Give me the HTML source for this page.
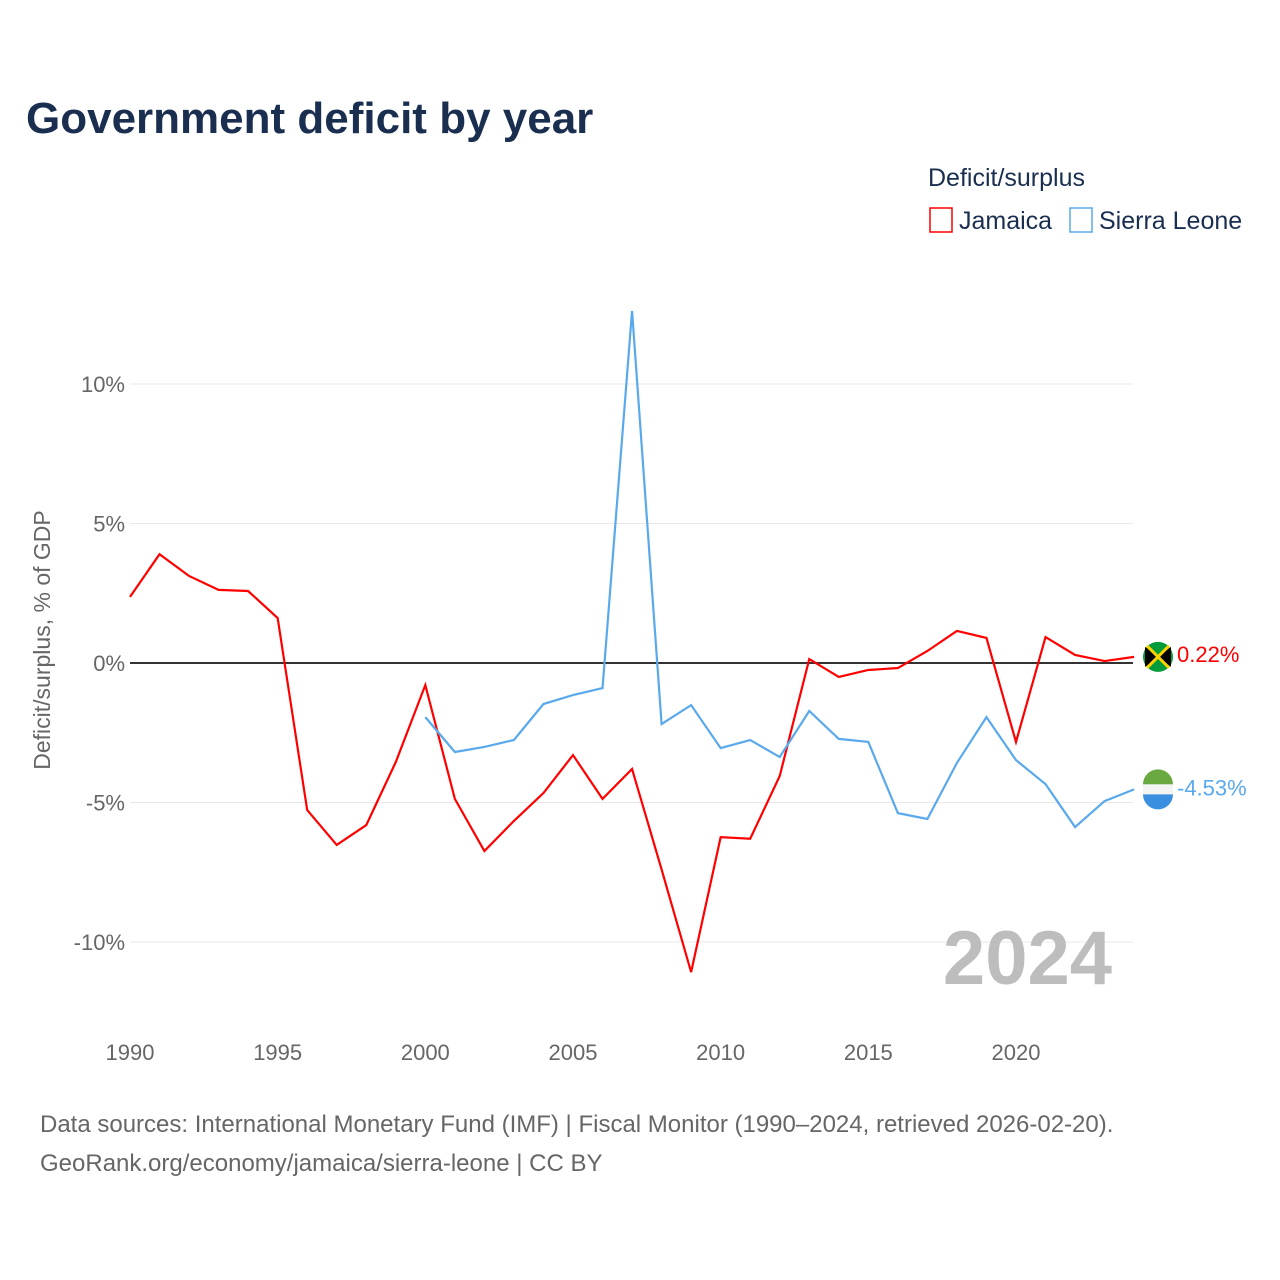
<!DOCTYPE html>
<html><head><meta charset="utf-8"><style>
body{margin:0;background:#fff;font-family:"Liberation Sans",sans-serif;}
</style></head><body>
<svg id="chart" width="1280" height="1280" xmlns="http://www.w3.org/2000/svg" style="display:block">
<rect width="1280" height="1280" fill="#fff"/>
<text x="26" y="133" font-size="44" font-weight="bold" fill="#1a2e4f">Government deficit by year</text>
<text x="928" y="186" font-size="25" fill="#1a2e4f">Deficit/surplus</text>
<g><rect x="930" y="208" width="22" height="24" fill="none" stroke="#ff0000" stroke-width="1.5"/><text x="959" y="229" font-size="25" fill="#1a2e4f">Jamaica</text></g>
<g><rect x="1070" y="208" width="22" height="24" fill="none" stroke="#5aa9ec" stroke-width="1.5"/><text x="1099" y="229" font-size="25" fill="#1a2e4f">Sierra Leone</text></g>
<text transform="translate(50,640) rotate(-90)" text-anchor="middle" font-size="23" fill="#666">Deficit/surplus, % of GDP</text>
<g id="grid"></g><g id="series"></g>
<text x="1112" y="984" text-anchor="end" font-size="76" font-weight="bold" fill="#bdbdbd">2024</text>
<text x="40" y="1132" font-size="24" fill="#666">Data sources: International Monetary Fund (IMF) | Fiscal Monitor (1990–2024, retrieved 2026-02-20).</text>
<text x="40" y="1171" font-size="24" fill="#666">GeoRank.org/economy/jamaica/sierra-leone | CC BY</text>
</svg>
<script>
const years=[];for(let y=1990;y<=2024;y++)years.push(y);
const jamaica=[2.37,3.9,3.12,2.62,2.58,1.61,-5.27,-6.52,-5.81,-3.55,-0.79,-4.87,-6.74,-5.66,-4.66,-3.3,-4.87,-3.8,-7.4,-11.08,-6.24,-6.3,-4.05,0.14,-0.5,-0.25,-0.18,0.43,1.15,0.9,-2.83,0.93,0.29,0.07,0.22];
const sierraYears=[2000,2001,2002,2003,2004,2005,2006,2007,2008,2009,2010,2011,2012,2013,2014,2015,2016,2017,2018,2019,2020,2021,2022,2023,2024];
const sierra=[-1.94,-3.19,-3.01,-2.76,-1.47,-1.15,-0.9,12.62,-2.19,-1.51,-3.05,-2.76,-3.37,-1.72,-2.72,-2.83,-5.38,-5.59,-3.58,-1.94,-3.48,-4.34,-5.88,-4.95,-4.53];
const yTicks=[10,5,0,-5,-10];const yLabels=["10%","5%","0%","-5%","-10%"];
const xTicks=[1990,1995,2000,2005,2010,2015,2020];
const X=y=>130+(y-1990)*29.533, Y=v=>663-v*27.9;
const NS="http://www.w3.org/2000/svg";
function mk(t,a,p){const e=document.createElementNS(NS,t);for(const k in a)e.setAttribute(k,a[k]);p.appendChild(e);return e;}
const g=document.getElementById('grid'),s=document.getElementById('series');
yTicks.forEach((v,i)=>{
 const l=mk('line',{x1:130,x2:1133,y1:Y(v),y2:Y(v),stroke:v===0?'#333':'#e8e8e8','stroke-width':v===0?2:1},g);
 
 
 const t=mk('text',{x:125,y:Y(v)+8,'text-anchor':'end','font-size':22,fill:'#666'},g);t.textContent=yLabels[i];
 
 
});
xTicks.forEach(y=>{const t=mk('text',{x:X(y),y:1060,'text-anchor':'middle','font-size':22,fill:'#666'},g);t.textContent=y;
 
 });
const pj=mk('polyline',{points:years.map((y,i)=>X(y)+','+Y(jamaica[i])).join(' '),fill:'none',stroke:'#ff0000','stroke-width':2.2},s);


const ps=mk('polyline',{points:sierraYears.map((y,i)=>X(y)+','+Y(sierra[i])).join(' '),fill:'none',stroke:'#5aa9ec','stroke-width':2.2},s);


const jy=Y(jamaica[jamaica.length-1]),sy=Y(sierra[sierra.length-1]);
const fj=mk('g',{},s);


mk('circle',{cx:1158,cy:jy,r:15,fill:'#009b3a'},fj);
mk('path',{d:`M1145 ${jy-10} L1158 ${jy} L1145 ${jy+10}Z`,fill:'#000'},fj);
mk('path',{d:`M1171 ${jy-10} L1158 ${jy} L1171 ${jy+10}Z`,fill:'#000'},fj);
mk('line',{x1:1147,y1:jy-11,x2:1169,y2:jy+11,stroke:'#fed100','stroke-width':3},fj);
mk('line',{x1:1169,y1:jy-11,x2:1147,y2:jy+11,stroke:'#fed100','stroke-width':3},fj);
const fs=mk('g',{},s);


mk('path',{d:`M1143 ${sy-5} A15 15 0 0 1 1173 ${sy-5}Z`,fill:'#6aa842'},fs);
mk('rect',{x:1143,y:sy-5,width:30,height:10,fill:'#f4f4f4'},fs);
mk('path',{d:`M1143 ${sy+5} A15 15 0 0 0 1173 ${sy+5}Z`,fill:'#3b8fe0'},fs);
const tj=mk('text',{x:1177,y:jy+5,'font-size':22,fill:'#ff0000'},s);tj.textContent=jamaica[jamaica.length-1].toFixed(2)+'%';


const ts=mk('text',{x:1177,y:sy+6,'font-size':22,fill:'#5aa9ec'},s);ts.textContent=sierra[sierra.length-1].toFixed(2)+'%';


</script>
</body></html>
